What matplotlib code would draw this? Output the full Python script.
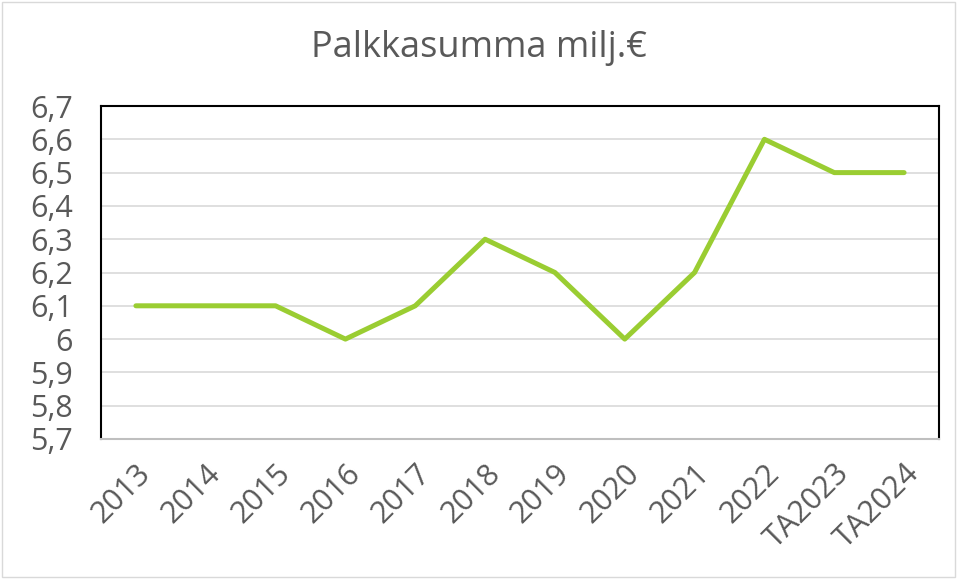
import matplotlib.pyplot as plt
from matplotlib.ticker import FuncFormatter
from matplotlib.patches import Rectangle

years = ["2013", "2014", "2015", "2016", "2017", "2018", "2019", "2020",
         "2021", "2022", "TA2023", "TA2024"]
palkkasumma = [6.1, 6.1, 6.1, 6.0, 6.1, 6.3, 6.2, 6.0, 6.2, 6.6, 6.5, 6.5]
yticks = [5.7, 5.8, 5.9, 6.0, 6.1, 6.2, 6.3, 6.4, 6.5, 6.6, 6.7]

plt.rcParams['font.family'] = ['Open Sans', 'DejaVu Sans']
txt = '#595959'

fig = plt.figure(figsize=(9.57, 5.79), dpi=100)
ax = fig.add_axes([101/957, 1 - 439/579, (939-101)/957, (439-106)/579])

x = list(range(len(years)))
ax.plot(x, palkkasumma, color='#9acd32', lw=3.6, solid_capstyle='round', zorder=3)

ax.set_xlim(-0.5, len(years) - 0.5)
ax.set_ylim(5.7, 6.7)
ax.set_yticks(yticks)
ax.yaxis.set_major_formatter(FuncFormatter(lambda v, p: ('%g' % round(v, 1)).replace('.', ',')))
ax.set_xticks(x)
ax.set_xticklabels(years, rotation=45, ha='right', rotation_mode='anchor')
ax.tick_params(length=0, labelsize=22, colors=txt)
ax.tick_params(axis='y', pad=20)
ax.tick_params(axis='x', pad=14)
ax.grid(axis='y', color='#d9d9d9', lw=1.2)
ax.set_axisbelow(True)

for s in ['top', 'left', 'right']:
    ax.spines[s].set_color('black')
    ax.spines[s].set_linewidth(1.5)
ax.spines['bottom'].set_color('#bfbfbf')
ax.spines['bottom'].set_linewidth(1.5)

fig.text(0.5, 1 - 48/579, "Palkkasumma milj.€", ha='center', va='center',
         fontsize=26, color=txt)

fig.patches.append(Rectangle((0.002, 0.003), 0.996, 0.994, transform=fig.transFigure,
                             fill=False, edgecolor='#d9d9d9', lw=1))

fig.savefig('out.png', dpi=100)
